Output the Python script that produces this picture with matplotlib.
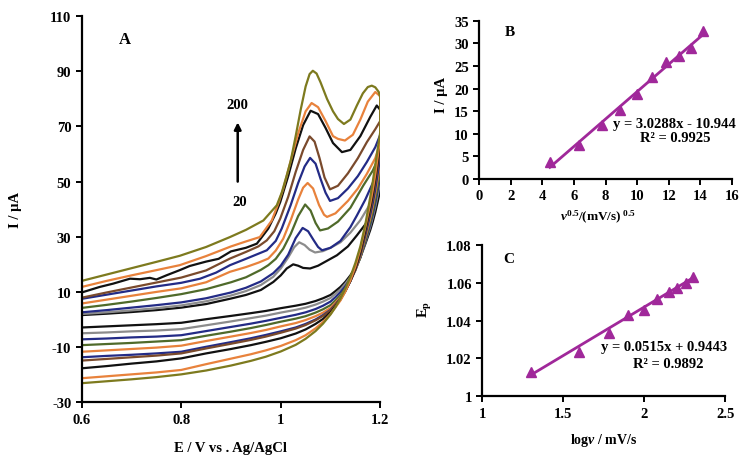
import numpy as np
import matplotlib
matplotlib.use("Agg")
import matplotlib.pyplot as plt

# ==========================
# Data
# ==========================
scan_rates = [20, 40, 60, 80, 100, 120, 140, 160, 180, 200]

# forward (anodic) branches, one list per scan rate
cv_fwd_E = [
    [0.60, 0.65, 0.70, 0.75, 0.80, 0.85, 0.90, 0.93, 0.96, 0.985, 1.00, 1.012, 1.025, 1.035, 1.045, 1.059, 1.075, 1.09, 1.113, 1.135, 1.153, 1.17, 1.18, 1.19, 1.20],
    [0.60, 0.65, 0.70, 0.75, 0.80, 0.85, 0.90, 0.93, 0.96, 0.985, 1.00, 1.015, 1.027, 1.037, 1.048, 1.058, 1.069, 1.085, 1.10, 1.12, 1.14, 1.16, 1.18, 1.19, 1.20],
    [0.60, 0.65, 0.70, 0.75, 0.80, 0.85, 0.90, 0.93, 0.96, 0.985, 1.00, 1.015, 1.03, 1.044, 1.055, 1.066, 1.075, 1.083, 1.10, 1.12, 1.14, 1.153, 1.17, 1.185, 1.20],
    [0.60, 0.65, 0.70, 0.75, 0.80, 0.85, 0.90, 0.93, 0.96, 0.975, 0.99, 1.005, 1.02, 1.035, 1.049, 1.06, 1.07, 1.079, 1.095, 1.115, 1.14, 1.166, 1.185, 1.20],
    [0.60, 0.65, 0.70, 0.75, 0.80, 0.85, 0.898, 0.93, 0.955, 0.975, 0.99, 1.005, 1.02, 1.035, 1.045, 1.054, 1.065, 1.077, 1.087, 1.093, 1.11, 1.135, 1.155, 1.173, 1.19, 1.20],
    [0.60, 0.65, 0.70, 0.75, 0.80, 0.838, 0.87, 0.898, 0.93, 0.972, 0.99, 1.002, 1.02, 1.035, 1.048, 1.059, 1.07, 1.08, 1.09, 1.099, 1.115, 1.135, 1.155, 1.173, 1.19, 1.20],
    [0.60, 0.65, 0.70, 0.75, 0.80, 0.85, 0.898, 0.93, 0.955, 0.972, 0.987, 0.999, 1.015, 1.03, 1.045, 1.058, 1.068, 1.078, 1.088, 1.099, 1.115, 1.135, 1.155, 1.173, 1.19, 1.20],
    [0.60, 0.636, 0.663, 0.697, 0.717, 0.737, 0.75, 0.77, 0.797, 0.817, 0.85, 0.875, 0.90, 0.93, 0.952, 0.975, 0.99, 0.999, 1.015, 1.03, 1.045, 1.06, 1.075, 1.09, 1.105, 1.123, 1.14, 1.16, 1.18, 1.193, 1.20],
    [0.60, 0.65, 0.70, 0.75, 0.797, 0.85, 0.90, 0.93, 0.958, 0.982, 0.995, 1.005, 1.02, 1.035, 1.05, 1.062, 1.075, 1.09, 1.105, 1.115, 1.129, 1.145, 1.16, 1.175, 1.19, 1.20],
    [0.60, 0.65, 0.70, 0.75, 0.797, 0.85, 0.898, 0.93, 0.965, 0.992, 1.002, 1.012, 1.02, 1.03, 1.04, 1.05, 1.058, 1.0645, 1.072, 1.08, 1.093, 1.105, 1.115, 1.127, 1.14, 1.153, 1.165, 1.175, 1.183, 1.19, 1.197, 1.20],
]
cv_fwd_I = [
    [1.6, 2.1, 2.7, 3.4, 4.3, 5.6, 7.6, 8.9, 10.7, 13.6, 16.0, 18.5, 20.0, 19.5, 18.7, 18.5, 19.5, 21.0, 23.3, 26.5, 30.5, 34.5, 37.7, 42.5, 50.0],
    [2.0, 2.6, 3.3, 4.1, 5.1, 6.6, 8.7, 10.3, 12.5, 15.5, 18.5, 22.5, 26.2, 28.0, 27.0, 25.3, 24.3, 24.8, 26.0, 28.0, 31.5, 36.0, 42.0, 46.5, 53.0],
    [2.6, 3.4, 4.3, 5.2, 6.2, 7.7, 9.8, 11.5, 13.8, 16.8, 19.5, 23.5, 29.5, 33.2, 32.0, 28.8, 26.3, 25.1, 26.0, 28.5, 33.5, 37.7, 43.5, 49.5, 57.0],
    [4.2, 5.3, 6.5, 7.8, 9.2, 11.0, 13.5, 15.3, 18.0, 19.7, 22.0, 25.7, 31.0, 37.5, 41.7, 39.5, 35.0, 32.3, 33.0, 35.5, 40.5, 48.6, 54.0, 60.0],
    [5.8, 7.2, 8.6, 10.0, 11.3, 13.5, 17.3, 19.0, 20.6, 22.1, 25.0, 29.3, 36.0, 43.5, 47.8, 49.5, 47.5, 41.5, 38.0, 37.2, 38.5, 43.0, 47.5, 52.8, 58.5, 64.0],
    [7.5, 9.0, 10.5, 12.0, 13.3, 14.8, 17.0, 19.7, 22.0, 25.1, 28.5, 33.0, 41.5, 49.5, 55.5, 58.6, 56.5, 51.0, 46.0, 43.0, 44.0, 47.5, 52.0, 57.1, 62.5, 67.0],
    [7.9, 9.8, 11.6, 13.4, 15.2, 17.8, 22.1, 24.5, 26.5, 28.7, 32.0, 36.6, 44.5, 53.5, 61.5, 66.4, 64.5, 58.5, 51.5, 47.2, 48.5, 53.0, 58.5, 64.3, 69.0, 72.0],
    [9.8, 11.8, 13.0, 14.8, 14.6, 15.1, 14.5, 16.0, 17.9, 19.4, 21.0, 22.0, 24.7, 26.0, 27.5, 33.0, 38.5, 42.6, 52.0, 62.0, 70.5, 75.7, 74.5, 69.5, 64.0, 60.7, 61.5, 66.5, 73.5, 77.6, 76.0],
    [11.8, 14.0, 16.0, 17.9, 19.7, 23.0, 26.5, 28.3, 29.9, 35.9, 42.0, 47.4, 57.5, 67.5, 75.5, 78.5, 77.0, 72.0, 66.5, 65.5, 64.9, 67.0, 72.5, 79.0, 82.5, 81.0],
    [14.0, 16.3, 18.6, 20.9, 23.1, 26.3, 29.9, 32.5, 35.9, 41.4, 46.0, 52.2, 57.5, 66.5, 76.0, 84.5, 89.0, 90.2, 89.2, 86.0, 80.0, 75.5, 72.7, 70.9, 72.5, 77.6, 82.0, 84.3, 84.8, 84.2, 82.5, 80.5],
]

# reverse (cathodic) branches, same potentials for every scan rate
cv_rev_E = [1.20, 1.20, 1.195, 1.19, 1.185, 1.18, 1.17, 1.16, 1.15, 1.14, 1.13, 1.12, 1.11, 1.10,
            1.085, 1.07, 1.05, 1.03, 1.00, 0.97, 0.94, 0.90, 0.85, 0.80, 0.75, 0.70, 0.65, 0.60]
cv_rev_I = [
    [50, 47, 42.8, 38.9, 35.5, 32.5, 27.4, 22.5, 18.8, 16.0, 13.7, 11.8, 10.3, 8.9, 7.7, 6.7, 5.7, 5.0, 4.1, 3.1, 2.3, 1.3, 0.1, -1.2, -1.7, -2.1, -2.5, -2.9],
    [53, 50, 45.3, 40.9, 37.1, 33.8, 28.0, 22.5, 18.5, 15.4, 13.0, 10.9, 9.3, 7.8, 6.5, 5.4, 4.3, 3.5, 2.5, 1.4, 0.5, -0.7, -2.1, -3.5, -4.0, -4.3, -4.7, -5.0],
    [57, 52, 47.0, 42.3, 38.1, 34.6, 28.4, 22.5, 18.2, 14.8, 12.1, 9.9, 8.1, 6.5, 5.0, 3.8, 2.6, 1.7, 0.6, -0.5, -1.5, -2.7, -4.2, -5.7, -6.2, -6.5, -6.9, -7.2],
    [60, 54, 48.6, 43.6, 39.2, 35.4, 28.8, 22.5, 17.8, 14.2, 11.3, 8.8, 6.9, 5.2, 3.7, 2.5, 1.2, 0.3, -0.8, -2.0, -3.1, -4.4, -5.9, -7.5, -8.0, -8.5, -8.9, -9.3],
    [64, 57, 51.2, 45.8, 41.0, 36.9, 29.8, 23.0, 17.9, 14.0, 10.8, 8.1, 6.1, 4.2, 2.5, 1.2, -0.2, -1.3, -2.5, -3.8, -4.9, -6.2, -7.8, -9.5, -10.2, -10.7, -11.2, -11.7],
    [67, 59, 53.0, 47.3, 42.3, 38.1, 30.6, 23.5, 18.1, 13.9, 10.5, 7.7, 5.5, 3.5, 1.6, 0.0, -1.6, -2.9, -4.3, -5.6, -6.8, -8.2, -9.9, -11.7, -12.3, -12.8, -13.2, -13.7],
    [72, 62, 55.5, 49.5, 44.1, 39.6, 31.6, 24.0, 18.4, 14.1, 10.5, 7.6, 5.4, 3.3, 1.3, -0.3, -2.0, -3.3, -4.8, -6.2, -7.4, -8.8, -10.5, -12.3, -13.1, -13.7, -14.3, -14.9],
    [76, 64, 57.3, 51.0, 45.4, 40.7, 32.4, 24.5, 18.6, 14.0, 10.3, 7.2, 4.8, 2.6, 0.2, -1.6, -3.6, -5.1, -6.8, -8.1, -9.3, -10.7, -12.3, -14.1, -15.2, -16.0, -16.9, -17.7],
    [81, 66, 59.1, 52.6, 47.0, 42.1, 33.6, 25.5, 19.2, 14.2, 10.2, 6.9, 4.4, 2.0, -0.9, -3.2, -5.7, -7.5, -9.6, -11.2, -12.6, -14.2, -16.2, -18.3, -19.2, -19.9, -20.6, -21.3],
    [80.5, 68, 62, 56, 50, 44.5, 34.5, 26.5, 20.5, 15.5, 11.3, 7.6, 4.5, 1.8, -1.5, -4.2, -7.0, -9.2, -11.6, -13.5, -15.0, -16.7, -18.5, -19.9, -20.9, -21.7, -22.4, -23.1],
]

cv_colors = ["#111111", "#8c8c8c", "#232b86", "#4f6a2a", "#e8823c",
             "#232b86", "#7a4a2c", "#111111", "#e8823c", "#7d7a1e"]

# panel B: peak current vs square root of scan rate
sqrt_v = [4.47, 6.32, 7.75, 8.94, 10.0, 10.95, 11.83, 12.65, 13.42, 14.14]
peak_I = [3.8, 7.6, 12.0, 15.2, 18.9, 22.5, 25.9, 27.2, 28.9, 32.8]
fit_b = (3.0288, -10.944)

# panel C: peak potential vs log scan rate
log_v = [1.30, 1.60, 1.78, 1.90, 2.00, 2.08, 2.15, 2.20, 2.26, 2.30]
peak_E = [1.0127, 1.0235, 1.0335, 1.0433, 1.0457, 1.0515, 1.0555, 1.0575, 1.0598, 1.0634]
fit_c = (0.0515, 0.9443)

a_xticks = [0.6, 0.8, 1.0, 1.2]
a_xlabels = ["0.6", "0.8", "1", "1.2"]
a_yticks = [-30, -10, 10, 30, 50, 70, 90, 110]
b_xticks = [0, 2, 4, 6, 8, 10, 12, 14, 16]
b_yticks = [0, 5, 10, 15, 20, 25, 30, 35]
c_xticks = [1, 1.5, 2, 2.5]
c_xlabels = ["1", "1.5", "2", "2.5"]
c_yticks = [1, 1.02, 1.04, 1.06, 1.08]
c_ylabels = ["1", "1.02", "1.04", "1.06", "1.08"]

# ==========================
# Style
# ==========================
plt.rcParams["font.family"] = ["Liberation Serif", "DejaVu Serif"]
plt.rcParams["font.weight"] = "bold"
plt.rcParams["axes.unicode_minus"] = False
plt.rcParams["mathtext.fontset"] = "custom"
plt.rcParams["mathtext.rm"] = "Liberation Serif:bold"
plt.rcParams["mathtext.it"] = "Liberation Serif:italic:bold"
plt.rcParams["mathtext.bf"] = "Liberation Serif:bold"

fit_color = "#a0289a"


def style_axes(ax, size):
    ax.spines["top"].set_visible(False)
    ax.spines["right"].set_visible(False)
    ax.spines["left"].set_linewidth(1.6)
    ax.spines["bottom"].set_linewidth(1.6)
    ax.tick_params(direction="out", length=4, width=1.4, labelsize=size)
    for lab in ax.get_xticklabels() + ax.get_yticklabels():
        lab.set_fontweight("bold")


fig = plt.figure(figsize=(7.5, 4.64), dpi=100)

# ==========================
# Panel A: cyclic voltammograms
# ==========================
ax_a = fig.add_axes([0.109, 0.131, 0.398, 0.832])
for i in range(len(scan_rates)):
    E = cv_fwd_E[i] + cv_rev_E
    I = cv_fwd_I[i] + cv_rev_I[i]
    ax_a.plot(E, I, color=cv_colors[i], lw=1.6, solid_joinstyle="round")

ax_a.set_xlim(0.6, 1.2)
ax_a.set_ylim(-30, 110)
ax_a.set_xticks(a_xticks)
ax_a.set_xticklabels(a_xlabels)
ax_a.set_yticks(a_yticks)
style_axes(ax_a, 10.5)
ax_a.set_xlabel("E / V vs . Ag/AgCl", fontsize=10.5, fontweight="bold")
ax_a.xaxis.set_label_coords(0.5, -0.1)
ax_a.set_ylabel("I / µA", fontsize=10.5, fontweight="bold")
ax_a.yaxis.set_label_coords(-0.2, 0.5)
ax_a.text(0.144, 0.942, "A", transform=ax_a.transAxes, fontsize=12,
          fontweight="bold", ha="center", va="center")

ax_a.annotate("", xy=(0.9135, 72.5), xytext=(0.9135, 49.0),
              arrowprops=dict(arrowstyle="-|>", color="black", lw=1.8,
                              mutation_scale=10))
ax_a.text(0.9135, 77.8, "200", fontsize=10.5, fontweight="bold",
          ha="center", va="center")
ax_a.text(0.918, 42.8, "20", fontsize=10.5, fontweight="bold",
          ha="center", va="center")

# ==========================
# Panel B: Ip vs v^0.5
# ==========================
ax_b = fig.add_axes([0.639, 0.612, 0.337, 0.341])
xb = np.array([sqrt_v[0], sqrt_v[-1]])
ax_b.plot(xb, fit_b[0] * xb + fit_b[1], color=fit_color, lw=2)
ax_b.plot(sqrt_v, peak_I, "^", color=fit_color, ms=7, mec=fit_color)
ax_b.set_xlim(0, 16)
ax_b.set_ylim(0, 35)
ax_b.set_xticks(b_xticks)
ax_b.set_yticks(b_yticks)
style_axes(ax_b, 10.5)
ax_b.set_xlabel(r"$\it{v}^{0.5}$/(mV/s)$^{\rm\ 0.5}$", fontsize=9.5,
                fontweight="bold")
ax_b.xaxis.set_label_coords(0.47, -0.18)
ax_b.set_ylabel("I / µA", fontsize=10.5, fontweight="bold")
ax_b.yaxis.set_label_coords(-0.125, 0.54)
ax_b.text(0.123, 0.935, "B", transform=ax_b.transAxes, fontsize=11,
          fontweight="bold", ha="center", va="center")
ax_b.text(0.773, 0.354, "y = 3.0288x - 10.944", transform=ax_b.transAxes,
          fontsize=10.5, fontweight="bold", ha="center", va="center")
ax_b.text(0.775, 0.264, "R² = 0.9925", transform=ax_b.transAxes,
          fontsize=10.5, fontweight="bold", ha="center", va="center")

# ==========================
# Panel C: Ep vs log v
# ==========================
ax_c = fig.add_axes([0.643, 0.144, 0.324, 0.325])
xc = np.array([log_v[0], log_v[-1]])
ax_c.plot(xc, fit_c[0] * xc + fit_c[1], color=fit_color, lw=2)
ax_c.plot(log_v, peak_E, "^", color=fit_color, ms=7, mec=fit_color)
ax_c.set_xlim(1, 2.5)
ax_c.set_ylim(1, 1.08)
ax_c.set_xticks(c_xticks)
ax_c.set_xticklabels(c_xlabels)
ax_c.set_yticks(c_yticks)
ax_c.set_yticklabels(c_ylabels)
style_axes(ax_c, 10.5)
ax_c.set_xlabel(r"log$\it{v}$ / mV/s", fontsize=10, fontweight="bold")
ax_c.xaxis.set_label_coords(0.5, -0.23)
ax_c.set_ylabel(r"E$_{\rm p}$", fontsize=10.5, fontweight="bold")
ax_c.yaxis.set_label_coords(-0.2, 0.58)
ax_c.text(0.109, 0.912, "C", transform=ax_c.transAxes, fontsize=11,
          fontweight="bold", ha="center", va="center")
ax_c.text(0.749, 0.329, "y = 0.0515x + 0.9443", transform=ax_c.transAxes,
          fontsize=10.5, fontweight="bold", ha="center", va="center")
ax_c.text(0.766, 0.218, "R² = 0.9892", transform=ax_c.transAxes,
          fontsize=10.5, fontweight="bold", ha="center", va="center")

fig.savefig("out.png", dpi=100)
plt.close(fig)
